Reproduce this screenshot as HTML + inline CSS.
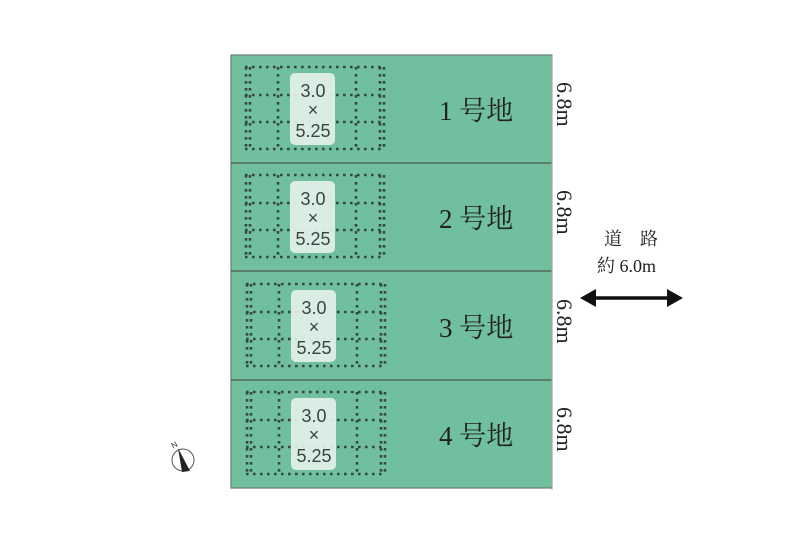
<!DOCTYPE html>
<html><head><meta charset="utf-8"><style>body{margin:0;background:#fff}svg{display:block}</style></head>
<body>
<svg width="801" height="534" viewBox="0 0 801 534" xmlns="http://www.w3.org/2000/svg">
<defs>
<g id="grid">
  <g stroke="#34483e" stroke-width="2.6" stroke-dasharray="2.6 4.4" fill="none">
    <line x1="245" y1="12" x2="384" y2="12"/>
    <line x1="245" y1="40" x2="384" y2="40"/>
    <line x1="245" y1="67" x2="384" y2="67"/>
    <line x1="245" y1="94" x2="384" y2="94"/>
    <line x1="246" y1="12" x2="246" y2="94"/>
    <line x1="250" y1="12" x2="250" y2="94"/>
    <line x1="278" y1="12" x2="278" y2="94"/>
    <line x1="356" y1="12" x2="356" y2="94"/>
    <line x1="380" y1="12" x2="380" y2="94"/>
    <line x1="384" y1="12" x2="384" y2="94"/>
  </g>
  <rect x="290" y="18" width="45" height="72" rx="5" fill="#e3f1ea" opacity="0.92"/>
  <g font-family="'Liberation Sans',sans-serif" font-size="18" fill="#3a443f" text-anchor="middle">
    <text x="313" y="42">3.0</text>
    <text x="313" y="61">×</text>
    <text x="313" y="82">5.25</text>
  </g>
</g>
</defs>
<rect x="231" y="55" width="321" height="433" fill="#70bf9f" stroke="#6a7a72" stroke-width="1.2"/>
<g stroke="#4a5a52" stroke-width="1.2">
  <line x1="231" y1="163" x2="552" y2="163"/>
  <line x1="231" y1="271" x2="552" y2="271"/>
  <line x1="231" y1="380" x2="552" y2="380"/>
</g>
<line x1="552" y1="55" x2="552" y2="490" stroke="#b0b0b0" stroke-width="1"/>
<use href="#grid" transform="translate(0,55)"/>
<use href="#grid" transform="translate(0,163)"/>
<use href="#grid" transform="translate(1,272)"/>
<use href="#grid" transform="translate(1,380)"/>
<g font-family="'Liberation Serif','Noto Serif CJK SC',serif" font-size="27" fill="#222">
  <text x="439" y="120">1 号地</text>
  <text x="439" y="228">2 号地</text>
  <text x="439" y="337">3 号地</text>
  <text x="439" y="445">4 号地</text>
</g>
<g font-family="'Liberation Serif',serif" font-size="22" fill="#222">
  <text transform="translate(557,82) rotate(90)">6.8m</text>
  <text transform="translate(557,190) rotate(90)">6.8m</text>
  <text transform="translate(557,299) rotate(90)">6.8m</text>
  <text transform="translate(557,407) rotate(90)">6.8m</text>
</g>
<g font-family="'Liberation Serif','Noto Serif CJK SC',serif" font-size="18" fill="#222">
  <text x="604" y="245">道　路</text>
  <text x="597" y="272">約 6.0m</text>
</g>
<line x1="590" y1="298" x2="672" y2="298" stroke="#111" stroke-width="3.5"/>
<polygon points="580,298 596,289 596,307" fill="#111"/>
<polygon points="683,298 667,289 667,307" fill="#111"/>
<g transform="translate(183,460)">
  <circle r="11" fill="#fff" stroke="#555" stroke-width="1"/>
  <polygon points="-5,-12 7,11 -1,12" fill="#222"/>
  <text x="-11" y="-12" font-family="'Liberation Sans',sans-serif" font-size="8" fill="#222" transform="rotate(-30 -9 -14)">N</text>
</g>
</svg>
</body></html>
